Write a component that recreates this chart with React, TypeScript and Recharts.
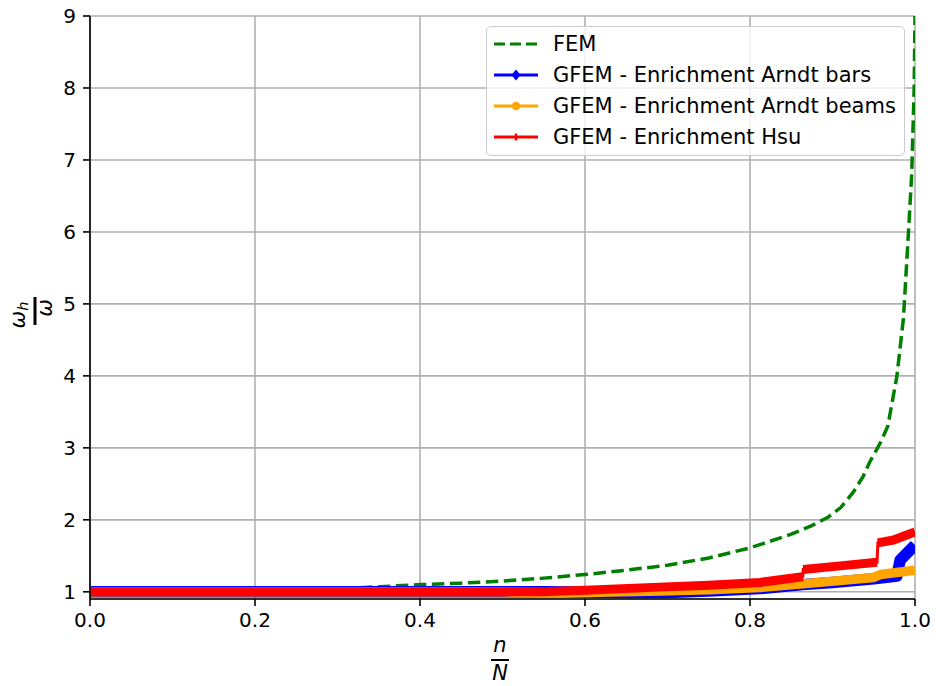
import React from "react";
import { LineChart, Line, XAxis, YAxis, CartesianGrid } from "recharts";

// n/N positions and frequency ratios for each method
const femX = [0, 0.1, 0.2, 0.3, 0.35, 0.4, 0.45, 0.5, 0.55, 0.6, 0.65, 0.7, 0.75, 0.8, 0.85, 0.875, 0.895, 0.91, 0.925, 0.937, 0.945, 0.958, 0.967, 0.978, 0.986, 0.992, 0.996, 0.999, 1.0];
const femY = [1.0, 1.0, 1.01, 1.04, 1.07, 1.1, 1.12, 1.15, 1.19, 1.24, 1.3, 1.37, 1.47, 1.61, 1.8, 1.92, 2.04, 2.17, 2.38, 2.6, 2.8, 3.07, 3.3, 3.99, 4.8, 5.98, 6.8, 8.0, 9.0];

const barsX = [0, 0.55, 0.65, 0.7, 0.75, 0.812, 0.864, 0.9, 0.95, 0.978, 0.982, 1.0];
const barsY = [1.0, 1.0, 0.99, 0.99, 1.01, 1.045, 1.1, 1.13, 1.18, 1.22, 1.44, 1.65];

const beamsX = [0, 0.5, 0.57, 0.69, 0.75, 0.812, 0.864, 0.95, 0.958, 1.0];
const beamsY = [1.0, 1.0, 0.985, 1.01, 1.03, 1.06, 1.11, 1.2, 1.24, 1.3];

// Hsu enrichment: segment index marks the jumps in the curve
const hsuX = [0, 0.55, 0.6, 0.69, 0.75, 0.812, 0.864, 0.8645, 0.9, 0.954, 0.955, 0.974, 0.99, 1.0];
const hsuY = [1.0, 1.0, 1.02, 1.065, 1.09, 1.13, 1.21, 1.31, 1.35, 1.41, 1.68, 1.72, 1.79, 1.83];
const hsuSeg = [0, 0, 0, 0, 0, 0, 0, 1, 1, 1, 2, 2, 2, 2];

const xTicks = [0, 0.2, 0.4, 0.6, 0.8, 1.0];
const yTicks = [1, 2, 3, 4, 5, 6, 7, 8, 9];

const seriesNames = [
  "FEM",
  "GFEM - Enrichment Arndt bars",
  "GFEM - Enrichment Arndt beams",
  "GFEM - Enrichment Hsu",
];

const FONT = "'DejaVu Sans', sans-serif";
const GREEN = "#008000";
const BLUE = "#0000ff";
const ORANGE = "#ffa500";
const RED = "#ff0000";
const DASH = "12.5 5.5";

const zip = (xs: number[], ys: number[]) => xs.map((x, i) => ({ x, y: ys[i] }));

const femData = zip(femX, femY);
const barsData = zip(barsX, barsY);
const beamsData = zip(beamsX, beamsY);
const hsuData = zip(hsuX, hsuY);
// marker band for Hsu: broken at the jumps so the vertical steps stay thin
const hsuBand: { x: number; y: number | null }[] = [];
hsuX.forEach((x, i) => {
  if (i > 0 && hsuSeg[i] !== hsuSeg[i - 1]) hsuBand.push({ x: (x + hsuX[i - 1]) / 2, y: null });
  hsuBand.push({ x, y: hsuY[i] });
});

const tickStyle = { fill: "#000", fontSize: 20, fontFamily: FONT };

function LegendHandle({ kind }: { kind: number }) {
  return (
    <svg width={46} height={20} style={{ display: "block" }}>
      {kind === 0 && (
        <line x1={1} y1={10} x2={45} y2={10} stroke={GREEN} strokeWidth={3.2} strokeDasharray="11 5" />
      )}
      {kind === 1 && (
        <g>
          <line x1={1} y1={10} x2={45} y2={10} stroke={BLUE} strokeWidth={3} />
          <polygon points="23,4.5 27.5,10 23,15.5 18.5,10" fill={BLUE} />
        </g>
      )}
      {kind === 2 && (
        <g>
          <line x1={1} y1={10} x2={45} y2={10} stroke={ORANGE} strokeWidth={3} />
          <circle cx={23} cy={10} r={4.2} fill={ORANGE} />
        </g>
      )}
      {kind === 3 && (
        <g>
          <line x1={1} y1={10} x2={45} y2={10} stroke={RED} strokeWidth={3} />
          <line x1={23} y1={6.5} x2={23} y2={13.5} stroke={RED} strokeWidth={2.5} />
        </g>
      )}
    </svg>
  );
}

export default function App() {
  const rowCenters = [17, 48, 79, 110];
  return (
    <div style={{ position: "absolute", left: 0, top: 0, width: 936, height: 686, background: "#fff", overflow: "hidden" }}>
      <LineChart width={936} height={686} margin={{ top: 16, right: 21, left: 0, bottom: 0 }}>
        <CartesianGrid stroke="#b0b0b0" strokeWidth={1.6} />
        <Line data={femData} dataKey="y" type="linear" stroke={GREEN} strokeWidth={3.5} strokeDasharray={DASH} dot={false} isAnimationActive={false} />
        <Line data={barsData} dataKey="y" type="linear" stroke={BLUE} strokeWidth={11.5} strokeLinejoin="round" dot={false} isAnimationActive={false} />
        <Line data={beamsData} dataKey="y" type="linear" stroke={ORANGE} strokeWidth={9.5} strokeLinejoin="round" dot={false} isAnimationActive={false} />
        <Line data={hsuBand} dataKey="y" type="linear" stroke={RED} strokeWidth={9} strokeLinejoin="round" dot={false} connectNulls={false} isAnimationActive={false} />
        <Line data={hsuData} dataKey="y" type="linear" stroke={RED} strokeWidth={3} dot={false} isAnimationActive={false} />
        <XAxis
          dataKey="x"
          type="number"
          domain={[0, 1]}
          allowDataOverflow
          ticks={xTicks}
          tickFormatter={(v: number) => v.toFixed(1)}
          height={87}
          tickSize={7}
          tickMargin={7}
          tick={tickStyle}
          tickLine={{ stroke: "#000", strokeWidth: 1.6 }}
          axisLine={{ stroke: "#000", strokeWidth: 1.6 }}
        />
        <YAxis
          type="number"
          domain={[0.9, 9]}
          allowDataOverflow
          ticks={yTicks}
          width={90}
          tickSize={7}
          tickMargin={7}
          tick={tickStyle}
          tickLine={{ stroke: "#000", strokeWidth: 1.6 }}
          axisLine={{ stroke: "#000", strokeWidth: 1.6 }}
        />
        <XAxis xAxisId="top" orientation="top" type="number" domain={[0, 1]} height={0} tick={false} tickLine={false} axisLine={{ stroke: "#000", strokeWidth: 1.6 }} />
        <YAxis yAxisId="right" orientation="right" type="number" domain={[0.9, 9]} width={0} tick={false} tickLine={false} axisLine={{ stroke: "#000", strokeWidth: 1.6 }} />
      </LineChart>

      {/* axis titles */}
      <svg width={936} height={686} style={{ position: "absolute", left: 0, top: 0, pointerEvents: "none" }}>
        <g fontFamily={FONT} fill="#000">
          <text x={500} y={652} fontSize={21} fontStyle="italic" textAnchor="middle">n</text>
          <rect x={491} y={659} width={18} height={2} fill="#000" />
          <text x={500} y={680} fontSize={21} fontStyle="italic" textAnchor="middle">N</text>
          <g transform="translate(35,311) rotate(-90)">
            <text x={-4} y={-10} fontSize={21} fontStyle="italic" textAnchor="middle">
              ω<tspan fontSize={14.5} dy={3}>h</tspan>
            </text>
            <rect x={-14} y={-1.5} width={28} height={3} fill="#000" />
            <text x={3} y={17} fontSize={21} fontStyle="italic" textAnchor="middle">ω</text>
          </g>
        </g>
      </svg>

      {/* legend */}
      <div
        style={{
          position: "absolute",
          left: 486,
          top: 26,
          width: 419,
          height: 130,
          boxSizing: "border-box",
          border: "1.6px solid #cccccc",
          borderRadius: 5,
          background: "rgba(255,255,255,0.8)",
          fontFamily: FONT,
          fontSize: 21,
          color: "#000",
        }}
      >
        {seriesNames.map((name, i) => (
          <div key={name}>
            <div style={{ position: "absolute", left: 6, top: rowCenters[i] - 10 }}>
              <LegendHandle kind={i} />
            </div>
            <div style={{ position: "absolute", left: 66, top: rowCenters[i] - 13, lineHeight: "26px", whiteSpace: "nowrap" }}>
              {name}
            </div>
          </div>
        ))}
      </div>
    </div>
  );
}
